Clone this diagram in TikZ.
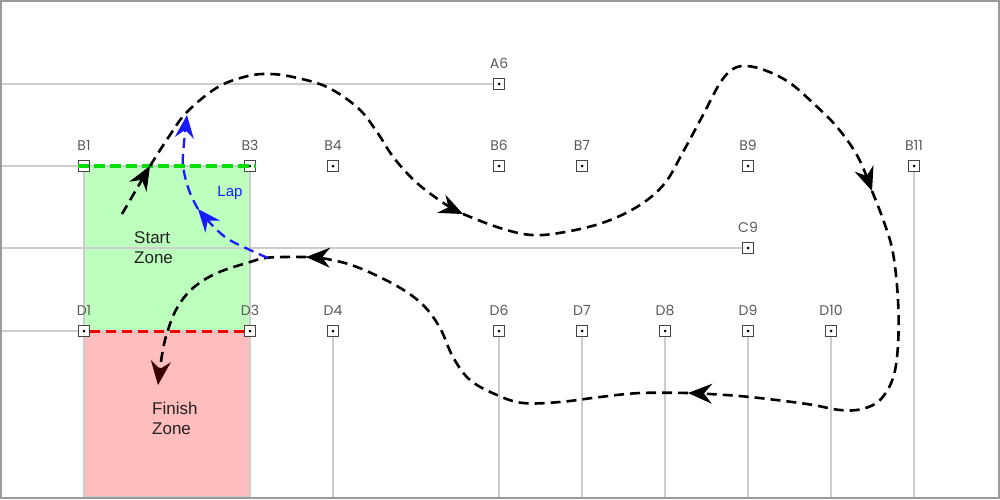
\documentclass[tikz,border=0pt]{standalone}
\usepackage{fontspec}
\setmainfont{Liberation Sans}
\newfontfamily\gridfont{Poppins}
\usetikzlibrary{arrows.meta}
\definecolor{gridgray}{HTML}{CDCDCD}
\definecolor{framegray}{HTML}{9A9A9A}
\definecolor{markgray}{HTML}{444444}
\definecolor{labelgray}{HTML}{5A5A5A}
\definecolor{zonegreen}{HTML}{BDFFBD}
\definecolor{zonered}{HTML}{FFBDBD}
\definecolor{startline}{HTML}{00E000}
\definecolor{finishline}{HTML}{EE0000}
\definecolor{lapblue}{HTML}{1A1AFF}
\definecolor{tipred}{HTML}{3A0000}
\definecolor{zonetextc}{HTML}{222222}
\tikzset{
  gridline/.style={draw=gridgray, line width=1.5pt},
  marker/.style={rectangle, draw=markgray, fill=white, minimum size=11pt, inner sep=0pt, line width=1.3pt},
  lbl/.style={font=\gridfont\fontsize{14}{14}\selectfont, text=labelgray, inner sep=0pt},
  route/.style={line width=2.6pt, dash pattern=on 10pt off 6pt, line cap=butt},
  lapline/.style={draw=lapblue, line width=2.3pt, dash pattern=on 10pt off 6pt, line cap=butt},
  tipk/.tip={Stealth[length=24pt,width=20pt,inset=8pt,line width=1pt]},
  tipb/.tip={Stealth[length=23pt,width=19pt,inset=8pt,line width=1pt,color=lapblue]},
  tipr/.tip={Stealth[length=24pt,width=20pt,inset=8pt,line width=1pt,color=tipred]},
  zonelbl/.style={font=\fontsize{17}{20}\selectfont, text=zonetextc, inner sep=0pt, anchor=base west},
}
\begin{document}
\begin{tikzpicture}[x=1pt,y=-1pt]
\useasboundingbox (0,0) rectangle (1000,499);
% zones
\filldraw[fill=zonegreen, draw=gridgray, line width=1.2pt] (84,166) rectangle (250,331);
\filldraw[fill=zonered, draw=gridgray, line width=1.2pt] (84,331) rectangle (250,497);
% marker positions
\foreach \n/\x/\y in {A6/499/84, B1/84/166, B3/250/166, B4/333/166, B6/499/166, B7/582/166, B9/748/166, B11/914/166, C9/748/248, D1/84/331, D3/250/331, D4/333/331, D6/499/331, D7/582/331, D8/665/331, D9/748/331, D10/831/331}{
  \coordinate (\n) at (\x,\y);
}
% grid lines
\draw[gridline] (0,84) -- (A6);
\draw[gridline] (0,166) -- (B1);
\draw[gridline] (0,248) -- (C9);
\draw[gridline] (0,331) -- (D1);
\foreach \n in {D1,D3,D4,D6,D7,D8,D9,D10,B11}{
  \draw[gridline] (\n) -- (\n |- 0,497);
}
\foreach \n/\x/\y in {A6/499/84, B1/84/166, B3/250/166, B4/333/166, B6/499/166, B7/582/166, B9/748/166, B11/914/166, C9/748/248, D1/84/331, D3/250/331, D4/333/331, D6/499/331, D7/582/331, D8/665/331, D9/748/331, D10/831/331}{
  \node[marker] (m\n) at (\n) {};
  \fill[black] (\n) circle (1.5pt);
  \node[lbl, anchor=base] (l\n) at (\x,\y-16) {\n};
}
% start / finish lines
\draw[draw=finishline, line width=3pt, dash pattern=on 10pt off 6pt] (mD1.east) -- (mD3.west);
\draw[draw=startline, line width=3.2pt, dash pattern=on 11pt off 5pt] (mB1.west) -- (mB3.east);
% route coordinates (arrow tips)
\coordinate (s0) at (122,214);
\coordinate (t1) at (150,166);
\coordinate (t2) at (463,214);
\coordinate (t3) at (872,191);
\coordinate (t4) at (688,393);
\coordinate (t5) at (306,257);
\coordinate (t6) at (158,385);
% main route
\draw[route, -tipk] plot[smooth, tension=0.6] coordinates {(s0) (136,190) (t1)};
\draw[route, -tipk] plot[smooth, tension=0.6] coordinates {(t1) (168,138) (187,112) (218,87) (248,76) (270,74) (293,77) (327,87) (358,108) (377,132) (394,158) (417,183) (445,204) (t2)};
\draw[route, -tipk] plot[smooth, tension=0.6] coordinates {(t2) (500,228) (532,235) (565,232) (605,222) (640,205) (665,183) (683,152) (703,115) (720,83) (733,69) (747,66) (767,71) (790,83) (813,103) (837,127) (858,157) (t3)};
\draw[route, -tipk] plot[smooth, tension=0.6] coordinates {(t3) (884,222) (893,253) (898,300) (898,345) (893,378) (880,400) (862,409) (840,410) (807,404) (750,397) (710,394) (t4)};
\draw[route, -tipk] plot[smooth, tension=0.6] coordinates {(t4) (640,393) (600,397) (560,402) (523,403) (497,395) (470,380) (453,357) (440,328) (423,305) (397,286) (357,267) (327,259) (t5)};
\draw[route, -tipr] plot[smooth, tension=0.6] coordinates {(t5) (283,257) (265,258) (250,262) (217,273) (193,288) (177,308) (167,333) (162,355) (t6)};
% lap route
\coordinate (lap0) at (268,258);
\coordinate (lap1) at (198,209);
\coordinate (lap2) at (187,115);
\draw[lapline, -tipb] plot[smooth, tension=0.6] coordinates {(lap0) (250,250) (228,239) (213,226) (lap1)};
\draw[lapline, -tipb] plot[smooth, tension=0.6] coordinates {(lap1) (190,193) (184,172) (183,155) (lap2)};
\node[font=\fontsize{15}{15}\selectfont, text=lapblue, inner sep=0pt, anchor=base] (lap) at (230,196) {Lap};
% zone texts
\node[zonelbl] (st1) at (134,243) {Start};
\node[zonelbl] (st2) at (134,263) {Zone};
\node[zonelbl] (fi1) at (152,414) {Finish};
\node[zonelbl] (fi2) at (152,434) {Zone};
% frame
\draw[framegray, line width=2pt] (1,1) rectangle (998.5,497.5);
\end{tikzpicture}
\end{document}
